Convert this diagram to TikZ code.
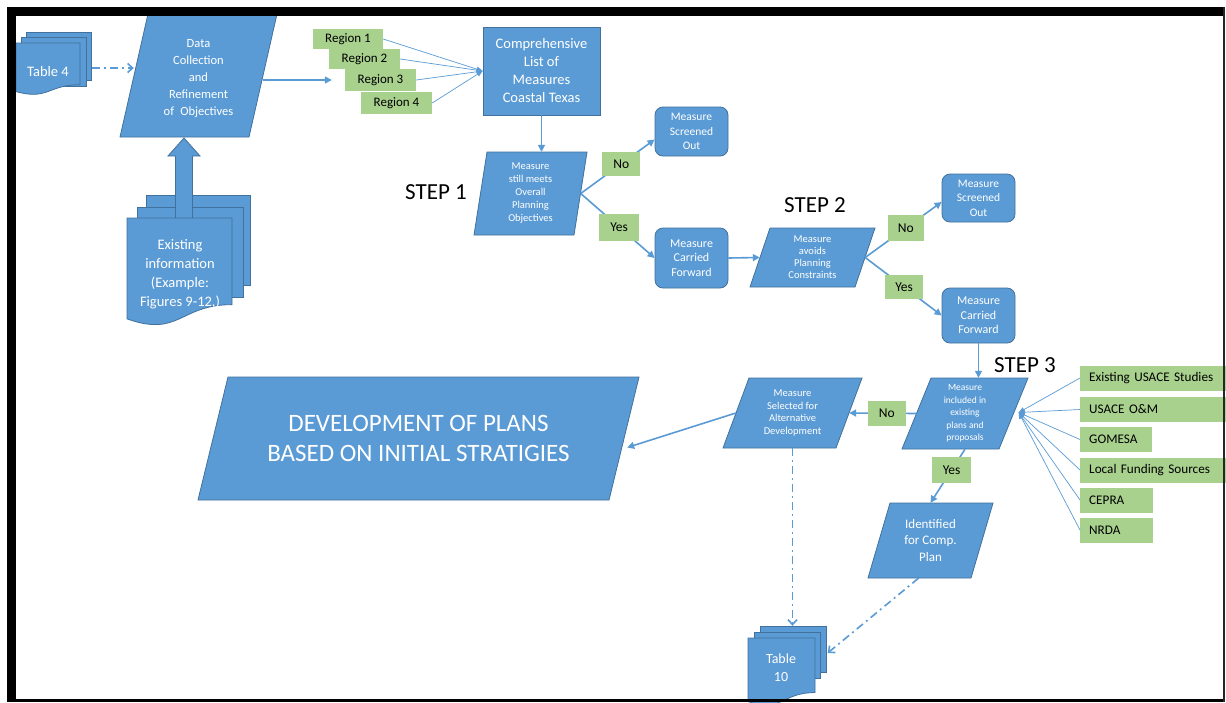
\documentclass[tikz,border=0pt]{standalone}
\usepackage{fontspec}
\setmainfont{Carlito}
\usetikzlibrary{arrows.meta,calc}
\definecolor{bfill}{HTML}{5B9BD5}
\definecolor{bdraw}{HTML}{41719C}
\definecolor{gfill}{HTML}{A9D18E}
\tikzset{
 bshape/.style={fill=bfill,draw=bdraw,line width=0.8pt},
 btext/.style={text=white,align=center,inner sep=0pt},
 rbox/.style={bshape,rounded corners=8pt,btext},
 glab/.style={fill=gfill,draw=none,inner sep=0pt,font=\fontsize{13.5}{16}\selectfont},
 src/.style={fill=gfill,draw=none,inner xsep=9pt,inner ysep=0pt,align=left,anchor=west,minimum height=25,font=\fontsize{13.2}{16}\selectfont},
 conn/.style={draw=bfill,line width=1.6pt,-{Triangle[length=7pt,width=7pt]}},
 thinconn/.style={draw=bfill,line width=0.7pt,-{Triangle[length=6pt,width=5pt]}},
 dashdot/.style={draw=bfill,line width=1.6pt,dash pattern=on 8pt off 4pt on 2pt off 4pt,-{Straight Barb[length=5pt,width=9pt]}},
 steplab/.style={inner sep=0pt,font=\fontsize{23}{26}\selectfont},
}
% #1 opts, #2 name, #3 cx, #4 cy, #5 edge width, #6 height, #7 slant, #8 text
\newcommand\paranode[8]{%
 \filldraw[bshape] ({#3-#5/2-#7/2},{#4+#6/2}) -- ++(#5,0) -- ++(#7,-#6) -- ++(-#5,0) -- cycle;
 \node[btext,minimum width=#5,minimum height=#6,#1] (#2) at (#3,#4) {#8};}
% #1 x, #2 y, #3 w, #4 h
\newcommand\docshape[4]{%
 \pgfmathsetmacro\dcxa{#1+#3}\pgfmathsetmacro\dcxm{#1+0.5*#3}%
 \pgfmathsetmacro\dcya{#2+0.802*#4}\pgfmathsetmacro\dcyb{#2+1.107*#4}\pgfmathsetmacro\dcyc{#2+0.934*#4}%
 \filldraw[bshape] (#1,#2) -- (\dcxa,#2) -- (\dcxa,\dcya) .. controls (\dcxm,\dcya) and (\dcxm,\dcyb) .. (#1,\dcyc) -- cycle;}
\newcommand\backpage[4]{\filldraw[bshape] (#1,#2) rectangle (#3,#4);}
\begin{document}
\begin{tikzpicture}[x=1pt,y=-1pt]
\path[use as bounding box,fill=white] (0,0) rectangle (1226,702);

% Table 4
\backpage{26}{32}{91}{80}
\backpage{21}{37.5}{86}{86}
\docshape{16}{43}{64}{52}
\node[btext,font=\fontsize{14.5}{17}\selectfont,minimum width=64,minimum height=40] (t4) at (48,72) {Table 4};

% Existing information
\backpage{146}{195}{250}{285}
\backpage{137}{207}{243}{297}
\filldraw[bshape] (184,138) -- (200,156) -- (192.5,156) -- (192.5,222) -- (175.5,222) -- (175.5,156) -- (168,156) -- cycle;
\docshape{127}{218}{105}{108}
\node[btext,font=\fontsize{14.5}{19}\selectfont] (ei) at (180,274) {Existing\\information\\(Example:\\Figures 9-12,)};

% Data collection
\paranode{font=\fontsize{12.5}{17}\selectfont,yshift=-3pt}{dc}{198.5}{75.5}{129}{123}{28}{Data\\Collection\\and\\Refinement\\of\enspace Objectives}

% Regions
\node[glab,font=\fontsize{13}{15}\selectfont,minimum width=70,minimum height=20] (r1) at (348,39) {Region 1};
\node[glab,font=\fontsize{13}{15}\selectfont,minimum width=71,minimum height=20] (r2) at (364.5,59) {Region 2};
\node[glab,font=\fontsize{13}{15}\selectfont,minimum width=71,minimum height=22] (r3) at (380.5,80) {Region 3};
\node[glab,font=\fontsize{13}{15}\selectfont,minimum width=71,minimum height=22] (r4) at (396.5,103) {Region 4};

% Comprehensive list
\node[bshape,btext,font=\fontsize{14.5}{18}\selectfont,minimum width=117,minimum height=88] (cl) at (541.5,71) {Comprehensive\\List of\\Measures\\Coastal Texas};

% Step 1
\paranode{font=\fontsize{10.5}{13}\selectfont}{d1}{530.5}{193.5}{100}{83}{13}{Measure\\still meets\\Overall\\Planning\\Objectives}
\node[rbox,font=\fontsize{11.5}{14.5}\selectfont,minimum width=73,minimum height=49] (so1) at (691.5,131.5) {Measure\\Screened\\Out};
\node[rbox,font=\fontsize{12}{14.5}\selectfont,minimum width=73,minimum height=60] (cf1) at (691.5,258) {Measure\\Carried\\Forward};

% Step 2
\paranode{font=\fontsize{10.5}{12}\selectfont}{d2}{812.5}{257.5}{105}{59}{20}{Measure\\avoids\\Planning\\Constraints}
\node[rbox,font=\fontsize{11.5}{14.5}\selectfont,minimum width=73,minimum height=48] (so2) at (978.5,198) {Measure\\Screened\\Out};
\node[rbox,font=\fontsize{12}{14.5}\selectfont,minimum width=73,minimum height=55] (cf2) at (978.5,315.5) {Measure\\Carried\\Forward};

% Step 3
\paranode{font=\fontsize{9.5}{12.5}\selectfont}{d3}{965}{413.5}{97}{71}{29}{Measure\\included in\\existing\\plans and\\proposals}
\paranode{font=\fontsize{10.5}{12.5}\selectfont}{ms}{792.5}{413}{113}{70}{26}{Measure\\Selected for\\Alternative\\Development}
\paranode{font=\fontsize{13}{16.5}\selectfont}{idf}{930.5}{540.5}{103}{75}{22}{Identified\\for Comp.\\Plan}
\paranode{font=\fontsize{25}{30}\selectfont}{dev}{418.5}{438.5}{411}{123}{30}{DEVELOPMENT OF PLANS\\BASED ON INITIAL STRATIGIES}

% Sources
\node[src,minimum width=143,text width=134] (es) at (1080,378) {Existing USACE Studies};
\node[src,minimum width=143,text width=134] (om) at (1080,409.5) {USACE O\&M};
\node[src,minimum width=72,text width=54] (gom) at (1080,439.5) {GOMESA};
\node[src,minimum width=143,text width=134] (lfs) at (1080,470) {Local Funding Sources};
\node[src,minimum width=73,text width=55] (cep) at (1080,500) {CEPRA};
\node[src,minimum width=73,text width=55] (nrda) at (1080,530) {NRDA};

% Table 10
\backpage{760}{626}{826}{672}
\backpage{754}{632}{820}{678}
\docshape{748}{638}{67}{68}
\node[btext,font=\fontsize{14}{18}\selectfont,minimum width=67,minimum height=84] (t10) at (781,668) {Table\\10};

% Step labels
\node[steplab] (s1) at (436,192) {STEP 1};
\node[steplab] (s2) at (815,205) {STEP 2};
\node[steplab] (s3) at (1025,365) {STEP 3};

% Connectors
\draw[dashdot] ($(t4.east)+(12,-4)$) -- ($(t4.east -| dc.west)+(0,-4)$);
\draw[conn] (dc.east |- r3.west) -- ($(r3.west)+(-13,0)$);
\foreach \r in {r1,r2,r3,r4} \draw[thinconn] (\r.east) -- (cl.west);
\draw[conn] (cl.south) -- (cl.south |- d1.north);
\draw[conn] (d1.east) -- node[glab,pos=0.55,minimum width=38,minimum height=24] (no1) {No} ($(so1.west)+(0,8)$);
\draw[conn] (d1.east) -- node[glab,pos=0.52,minimum width=40,minimum height=27] (yes1) {Yes} (cf1.west);
\draw[conn] (cf1.east) -- (d2.west);
\draw[conn] (d2.east) -- node[glab,pos=0.53,minimum width=36,minimum height=26] (no2) {No} ($(so2.west)+(0,4)$);
\draw[conn] (d2.east) -- node[glab,pos=0.51,minimum width=38,minimum height=24] (yes2) {Yes} (cf2.west);
\draw[conn] (cf2.south) -- (cf2.south |- d3.north);
\draw[conn] (d3.west) -- node[glab,pos=0.44,minimum width=38,minimum height=25] (no3) {No} (ms.east);
\draw[conn] (d3.south) -- node[glab,pos=0.39,minimum width=39,minimum height=26] (yes3) {Yes} (idf.north);
\draw[conn] (ms.west) -- ($(dev.east)+(3,9)$);
\coordinate (s3in) at ($(d3.east)+(5,-1)$);
\foreach \s in {es,om,gom,lfs,cep,nrda} \draw[thinconn] (\s.west) -- (s3in);
\draw[dashdot] (ms.south) -- (ms.south |- t10.north);
\draw[dashdot] ($(idf.south)+(-12,0)$) -- ($(t10.east)+(13,-15)$);

% Frame
\fill[black] (7,7) rectangle (1224.5,16);
\fill[black] (7,7) rectangle (16,702);
\fill[black] (7,698.5) rectangle (1224.5,702);
\fill[black!85] (1222.5,7) rectangle (1224.5,702);
\end{tikzpicture}
\end{document}
